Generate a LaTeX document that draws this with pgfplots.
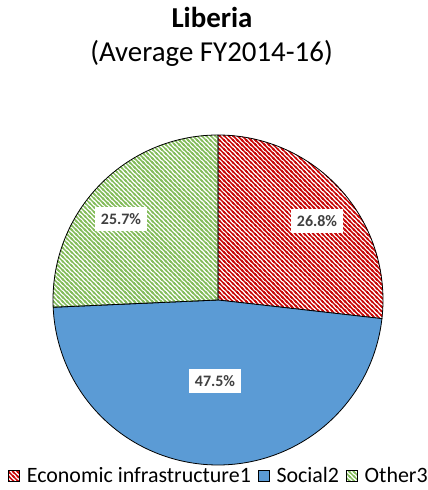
\documentclass[border=0pt]{standalone}
\usepackage{pgfplots}
\pgfplotsset{compat=1.18}
\usepackage{fontspec}
\setmainfont{Carlito}
\usetikzlibrary{patterns}
\definecolor{econred}{HTML}{C80808}
\definecolor{socblue}{HTML}{5B9BD5}
\definecolor{othgreen}{HTML}{84BC5C}
\definecolor{lbl}{HTML}{404040}
\pgfdeclarepatternformonly{dstripes}{\pgfqpoint{-1pt}{-1pt}}{\pgfqpoint{5.5pt}{5.5pt}}{\pgfqpoint{4.5pt}{4.5pt}}{%
  \pgfsetlinewidth{1.5pt}%
  \pgfpathmoveto{\pgfqpoint{-1pt}{5.5pt}}\pgfpathlineto{\pgfqpoint{5.5pt}{-1pt}}%
  \pgfpathmoveto{\pgfqpoint{-1pt}{1pt}}\pgfpathlineto{\pgfqpoint{1pt}{-1pt}}%
  \pgfpathmoveto{\pgfqpoint{3.5pt}{5.5pt}}\pgfpathlineto{\pgfqpoint{5.5pt}{3.5pt}}%
  \pgfusepath{stroke}}
% shares (%)
\def\vEcon{26.8}
\def\vSoc{47.5}
\def\vOth{25.7}
\pgfmathsetmacro{\aA}{90}
\pgfmathsetmacro{\aB}{\aA-3.6*\vEcon}
\pgfmathsetmacro{\aC}{\aB-3.6*\vSoc}
\pgfmathsetmacro{\aD}{\aC-3.6*\vOth}
\begin{document}
\begin{tikzpicture}
\useasboundingbox (0,0) rectangle (428bp,490bp);
\node[anchor=base, inner sep=0pt, font=\fontsize{29}{34}\selectfont\bfseries] at (212bp,462bp) {Liberia};
\node[anchor=base, inner sep=0pt, font=\fontsize{29}{34}\selectfont] at (211.5bp,428bp) {(Average FY2014-16)};
\begin{axis}[at={(218bp,190bp)}, anchor=center, scale only axis,
  width=330bp, height=330bp, xmin=-1, xmax=1, ymin=-1, ymax=1,
  hide axis, clip=false,
  legend columns=3,
  legend style={at={(axis cs:0,-1.067)}, anchor=center, draw=none, fill=none,
    font=\fontsize{22}{26}\selectfont, inner sep=0pt, nodes={inner sep=0pt},
    /tikz/every even column/.append style={column sep=7bp},
    /tikz/every odd column/.append style={column sep=7bp}},
  legend image code/.code={\draw[#1, line width=0.6pt] (0bp,-5.5bp) rectangle (11bp,5.5bp);},
  ]
\addplot[draw=black, line width=0.8pt, pattern=dstripes, pattern color=econred,
  domain=\aB:\aA, samples=90, forget plot] ({cos(x)},{sin(x)}) -- (axis cs:0,0) -- cycle;
\addplot[draw=black, line width=0.8pt, fill=socblue,
  domain=\aC:\aB, samples=150, forget plot] ({cos(x)},{sin(x)}) -- (axis cs:0,0) -- cycle;
\addplot[draw=black, line width=0.8pt, pattern=dstripes, pattern color=othgreen,
  domain=\aD:\aC, samples=90, forget plot] ({cos(x)},{sin(x)}) -- (axis cs:0,0) -- cycle;
\addlegendimage{draw=black, pattern=dstripes, pattern color=econred}
\addlegendentry{Economic infrastructure1}
\addlegendimage{draw=black, fill=socblue}
\addlegendentry{Social2}
\addlegendimage{draw=black, pattern=dstripes, pattern color=othgreen}
\addlegendentry{Other3}
\begin{scope}[every node/.style={fill=white, text=lbl, font=\fontsize{16}{19}\selectfont\bfseries, inner xsep=5.5bp, minimum height=24bp}]
\node at (axis cs:0.6,0.479) {\pgfmathprintnumber[assume math mode=true,fixed,precision=1,fixed zerofill]{\vEcon}\%};
\node at (axis cs:-0.018,-0.491) {\pgfmathprintnumber[assume math mode=true,fixed,precision=1,fixed zerofill]{\vSoc}\%};
\node at (axis cs:-0.588,0.491) {\pgfmathprintnumber[assume math mode=true,fixed,precision=1,fixed zerofill]{\vOth}\%};
\end{scope}
\end{axis}
\end{tikzpicture}
\end{document}
